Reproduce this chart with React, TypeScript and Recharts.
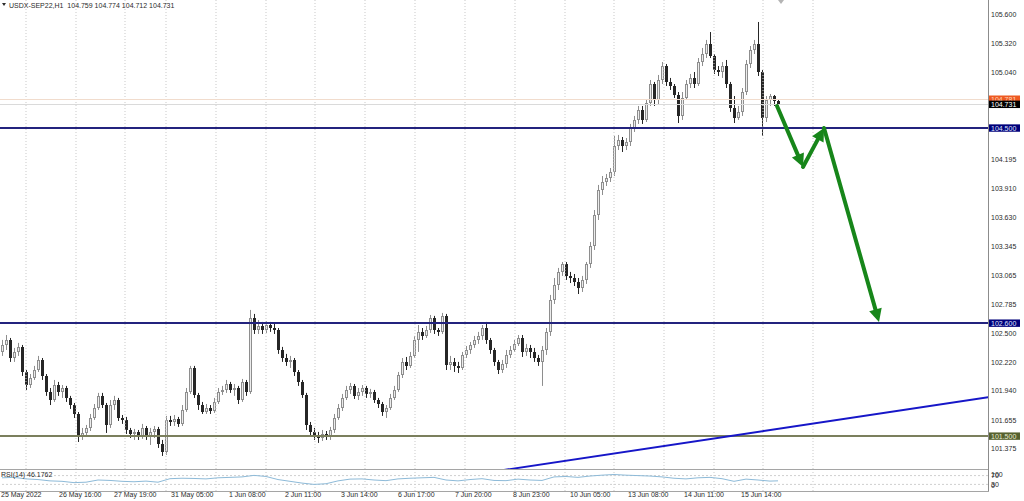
import React from 'react';
import { Bar, ComposedChart, Line, LineChart, ReferenceLine, XAxis, YAxis } from 'recharts';

// USDX-SEP22, H1 candles (oldest first)
const symbol = 'USDX-SEP22,H1';

const opens = [
  102.319, 102.387, 102.436, 102.26, 102.319, 102.368, 102.124, 101.997, 102.065, 102.143,
  102.241, 102.085, 101.93, 101.851, 101.997, 101.93, 101.968, 101.871, 101.802, 101.715,
  101.501, 101.53, 101.579, 101.676, 101.773, 101.891, 101.802, 101.608, 101.802, 101.851,
  101.676, 101.657, 101.559, 101.52, 101.54, 101.501, 101.579, 101.491, 101.54, 101.569,
  101.423, 101.345, 101.657, 101.638, 101.666, 101.618, 101.754, 101.93, 102.163, 101.9,
  101.802, 101.735, 101.773, 101.744, 101.832, 101.93, 101.949, 102.007, 101.949, 101.968,
  101.851, 102.027, 101.93, 102.65, 102.533, 102.572, 102.533, 102.581, 102.552, 102.533,
  102.338, 102.26, 102.222, 102.241, 102.124, 102.027, 101.9, 101.608, 101.54, 101.501,
  101.481, 101.52, 101.501, 101.559, 101.676, 101.773, 101.871, 101.949, 101.988, 101.891,
  101.93, 101.968, 101.91, 101.93, 101.851, 101.812, 101.735, 101.773, 101.871, 101.949,
  102.095, 102.222, 102.183, 102.28, 102.436, 102.514, 102.475, 102.533, 102.65, 102.533,
  102.514, 102.67, 102.192, 102.222, 102.183, 102.163, 102.29, 102.338, 102.387, 102.436,
  102.475, 102.552, 102.436, 102.338, 102.222, 102.143, 102.202, 102.29, 102.338, 102.397,
  102.455, 102.319, 102.358, 102.319, 102.26, 102.222, 102.338, 102.514, 102.825, 102.971,
  103.098, 103.175, 103.059, 103.039, 103.0, 102.942, 103.02, 103.175, 103.351, 103.653,
  103.896, 103.974, 104.013, 104.071, 104.324, 104.383, 104.324, 104.363, 104.5, 104.578,
  104.675, 104.578, 104.743, 104.928, 104.772, 104.967, 105.103, 104.948, 104.909, 104.821,
  104.617, 104.792, 104.928, 104.987, 104.928, 105.142, 105.22, 105.318, 105.201, 105.064,
  105.045, 105.103, 104.928, 104.694, 104.597, 104.656, 104.85, 105.123, 105.259, 105.318,
  105.045, 104.597, 104.772, 104.811, 104.759,
];

const highs = [
  102.436, 102.484, 102.455, 102.358, 102.407, 102.387, 102.143, 102.104, 102.183, 102.28,
  102.26, 102.104, 101.968, 102.046, 102.027, 101.997, 101.988, 101.891, 101.822, 101.734,
  101.579, 101.608, 101.715, 101.812, 101.92, 101.92, 101.822, 101.851, 101.891, 101.871,
  101.705, 101.686, 101.579, 101.569, 101.559, 101.618, 101.598, 101.579, 101.598, 101.589,
  101.462, 101.696, 101.696, 101.705, 101.686, 101.802, 101.968, 102.183, 102.183, 101.92,
  101.832, 101.812, 101.802, 101.871, 101.968, 101.988, 102.046, 102.027, 102.007, 101.988,
  102.056, 102.046, 102.728, 102.689, 102.63, 102.611, 102.62, 102.611, 102.592, 102.552,
  102.368, 102.3, 102.28, 102.26, 102.143, 102.046, 101.92, 101.637, 101.579, 101.54,
  101.559, 101.549, 101.589, 101.715, 101.812, 101.91, 101.988, 102.017, 102.007, 101.968,
  101.997, 101.988, 101.959, 101.949, 101.871, 101.832, 101.802, 101.91, 101.988, 102.124,
  102.26, 102.27, 102.319, 102.475, 102.581, 102.552, 102.572, 102.679, 102.67, 102.552,
  102.699, 102.689, 102.28, 102.26, 102.222, 102.319, 102.377, 102.416, 102.475, 102.514,
  102.581, 102.611, 102.455, 102.358, 102.241, 102.241, 102.338, 102.377, 102.436, 102.484,
  102.484, 102.397, 102.387, 102.358, 102.29, 102.377, 102.552, 102.874, 103.039, 103.137,
  103.195, 103.195, 103.098, 103.078, 103.039, 103.059, 103.195, 103.39, 103.701, 103.945,
  104.032, 104.052, 104.11, 104.422, 104.432, 104.412, 104.402, 104.539, 104.617, 104.714,
  104.714, 104.772, 104.967, 104.948, 105.016, 105.142, 105.123, 104.987, 104.928, 104.85,
  104.85, 104.967, 105.026, 105.045, 105.181, 105.279, 105.357, 105.434, 105.22, 105.103,
  105.142, 105.162, 104.948, 104.811, 104.714, 104.889, 105.162, 105.298, 105.357, 105.532,
  105.064, 104.811, 104.831, 104.821, 104.774,
];

const lows = [
  102.28, 102.338, 102.222, 102.222, 102.28, 102.085, 101.949, 101.968, 102.046, 102.124,
  102.046, 101.891, 101.802, 101.832, 101.891, 101.871, 101.832, 101.764, 101.676, 101.442,
  101.462, 101.501, 101.549, 101.657, 101.754, 101.773, 101.53, 101.579, 101.754, 101.647,
  101.618, 101.52, 101.481, 101.462, 101.462, 101.472, 101.462, 101.413, 101.481, 101.384,
  101.306, 101.316, 101.598, 101.598, 101.589, 101.598, 101.735, 101.91, 101.871, 101.754,
  101.715, 101.715, 101.715, 101.725, 101.812, 101.9, 101.92, 101.92, 101.891, 101.812,
  101.832, 101.891, 101.91, 102.494, 102.494, 102.494, 102.504, 102.514, 102.494, 102.3,
  102.222, 102.183, 102.163, 102.085, 101.988, 101.871, 101.559, 101.491, 101.462, 101.433,
  101.452, 101.462, 101.462, 101.53, 101.657, 101.744, 101.851, 101.91, 101.861, 101.851,
  101.891, 101.871, 101.871, 101.822, 101.773, 101.696, 101.676, 101.754, 101.851, 101.93,
  102.065, 102.143, 102.163, 102.26, 102.319, 102.436, 102.455, 102.504, 102.494, 102.475,
  102.494, 102.143, 102.143, 102.124, 102.114, 102.143, 102.26, 102.3, 102.358, 102.397,
  102.436, 102.397, 102.3, 102.183, 102.104, 102.114, 102.163, 102.26, 102.319, 102.377,
  102.27, 102.28, 102.26, 102.222, 102.183, 101.988, 102.29, 102.475, 102.786, 102.922,
  103.059, 103.02, 102.99, 102.961, 102.883, 102.903, 102.981, 103.137, 103.312, 103.604,
  103.847, 103.935, 103.974, 104.032, 104.285, 104.266, 104.285, 104.324, 104.461, 104.539,
  104.539, 104.558, 104.714, 104.714, 104.733, 104.928, 104.909, 104.87, 104.792, 104.548,
  104.578, 104.772, 104.889, 104.889, 104.909, 105.103, 105.181, 105.181, 105.026, 105.006,
  104.987, 104.889, 104.656, 104.548, 104.578, 104.617, 104.821, 105.084, 105.22, 105.006,
  104.422, 104.558, 104.714, 104.714, 104.712,
];

const closes = [
  102.387, 102.436, 102.26, 102.319, 102.368, 102.124, 101.997, 102.065, 102.143, 102.241,
  102.085, 101.93, 101.851, 101.997, 101.93, 101.968, 101.871, 101.802, 101.715, 101.501,
  101.53, 101.579, 101.676, 101.773, 101.891, 101.802, 101.608, 101.802, 101.851, 101.676,
  101.657, 101.559, 101.52, 101.54, 101.501, 101.579, 101.491, 101.54, 101.569, 101.423,
  101.345, 101.657, 101.638, 101.666, 101.618, 101.754, 101.93, 102.163, 101.9, 101.802,
  101.735, 101.773, 101.744, 101.832, 101.93, 101.949, 102.007, 101.949, 101.968, 101.851,
  102.027, 101.93, 102.65, 102.533, 102.572, 102.533, 102.581, 102.552, 102.533, 102.338,
  102.26, 102.222, 102.241, 102.124, 102.027, 101.9, 101.608, 101.54, 101.501, 101.481,
  101.52, 101.501, 101.559, 101.676, 101.773, 101.871, 101.949, 101.988, 101.891, 101.93,
  101.968, 101.91, 101.93, 101.851, 101.812, 101.735, 101.773, 101.871, 101.949, 102.095,
  102.222, 102.183, 102.28, 102.436, 102.514, 102.475, 102.533, 102.65, 102.533, 102.514,
  102.67, 102.192, 102.222, 102.183, 102.163, 102.29, 102.338, 102.387, 102.436, 102.475,
  102.552, 102.436, 102.338, 102.222, 102.143, 102.202, 102.29, 102.338, 102.397, 102.455,
  102.319, 102.358, 102.319, 102.26, 102.222, 102.338, 102.514, 102.825, 102.971, 103.098,
  103.175, 103.059, 103.039, 103.0, 102.942, 103.02, 103.175, 103.351, 103.653, 103.896,
  103.974, 104.013, 104.071, 104.324, 104.383, 104.324, 104.363, 104.5, 104.578, 104.675,
  104.578, 104.743, 104.928, 104.772, 104.967, 105.103, 104.948, 104.909, 104.821, 104.617,
  104.792, 104.928, 104.987, 104.928, 105.142, 105.22, 105.318, 105.201, 105.064, 105.045,
  105.103, 104.928, 104.694, 104.597, 104.656, 104.85, 105.123, 105.259, 105.318, 105.045,
  104.597, 104.772, 104.811, 104.759, 104.731,
];

const askPrice = 104.781;
const levelPrices = [104.5, 102.6, 101.5];
const priceTicks = [
  105.6, 105.32, 105.04, 104.195, 103.91, 103.63, 103.345, 103.065, 102.785, 102.5, 102.22,
  101.94, 101.655, 101.375,
];

// RSI(14), one reading every third bar, last one on the final bar
const rsiValues = [
  60, 62, 55, 52, 46, 44, 38, 40, 50, 48, 44, 42, 45, 40, 56, 58, 57, 55, 60, 62, 64, 71, 66, 52,
  44, 36, 30, 33, 46, 54, 55, 50, 47, 55, 58, 60, 62, 50, 46, 52, 56, 48, 47, 54, 50, 48, 64, 66,
  62, 68, 72, 75, 72, 70, 68, 64, 58, 55, 60, 62, 56, 44, 54, 50, 45, 46.1762,
];
const rsiStep = 3;
const rsiTicks = [100, 70, 30, 0];
const rsiLevels = [70, 30];

// bar positions of the time labels and of the dotted separators
const timeTicks = [-0.5, 14, 27.75, 42, 56.5, 70.5, 84.5, 98.75, 113, 127.5, 141.75, 156.25, 170.25, 184.5];
const timeLabels = [
  '25 May 2022', '26 May 16:00', '27 May 19:00', '31 May 05:00', '1 Jun 08:00', '2 Jun 11:00',
  '3 Jun 14:00', '6 Jun 17:00', '7 Jun 20:00', '8 Jun 23:00', '10 Jun 05:00', '13 Jun 08:00',
  '14 Jun 11:00', '15 Jun 14:00',
];
const gridBars = [6, 18.5, 30.75, 41, 53.5, 66, 78.25, 90.75, 103.25, 115.75, 128.25, 140.75, 153, 165.5, 178, 190.25, 202.75];

// drawn objects: support trend line and the forecast arrows (bar index, price)
const trendLine = [{ i: 100, p: 101.02 }, { i: 260, p: 101.957 }];
const forecast = [
  { i: 193.75, p: 104.714 },
  { i: 200.25, p: 104.12 },
  { i: 205.5, p: 104.5 },
  { i: 219.25, p: 102.611 },
];

const W = 1024;
const PLOT_W = 988;
const MAIN_H = 469;
const BAR_DOMAIN: [number, number] = [-0.5, 246.5];
const PRICE_DOMAIN: [number, number] = [101.179, 105.746];
const FONT = '"Liberation Sans", Arial, sans-serif';
const TEXT = '#2b2b2b';
const GREEN = '#17861a';
const GRID = '#c9c9c9';

const candles = closes.map((c, i) => ({
  i,
  open: opens[i],
  high: highs[i],
  low: lows[i],
  close: c,
  range: [lows[i], highs[i]],
}));

const rsiRows = rsiValues.map((v, k) => ({ i: Math.min(k * rsiStep, closes.length - 1), v }));

const last = candles.length - 1;
const header = `${symbol}  ${opens[last].toFixed(3)} ${highs[last].toFixed(3)} ${lows[last].toFixed(3)} ${closes[last].toFixed(3)}`;

function Candle(props: any) {
  const { x, y, width, height, payload } = props;
  if (x == null || !payload) return null;
  const top = Math.min(y, y + height);
  const h = Math.abs(height);
  const span = payload.high - payload.low || 1e-9;
  const yOf = (v: number) => top + ((payload.high - v) / span) * h;
  const cx = Math.round(x + width / 2);
  const up = payload.close >= payload.open;
  const bodyTop = Math.round(yOf(Math.max(payload.open, payload.close)));
  const bodyBot = Math.max(bodyTop + 1, Math.round(yOf(Math.min(payload.open, payload.close))));
  const stroke = up ? '#8e8e8e' : '#262626';
  return (
    <g>
      <line x1={cx + 0.5} x2={cx + 0.5} y1={top} y2={top + h} stroke={stroke} strokeWidth={1} />
      <rect
        x={cx - 0.5}
        y={bodyTop + 0.5}
        width={2}
        height={Math.max(bodyBot - bodyTop - 1, 0)}
        fill={up ? '#ececec' : '#262626'}
        stroke={stroke}
        strokeWidth={1}
      />
    </g>
  );
}

function levelShape(color: string, width: number, tagBg: string, tagFg: string, label: string) {
  return (p: any) => {
    const yy = Math.round(p.y1) + (width % 2 ? 0.5 : 0);
    return (
      <g>
        <line x1={p.x1} x2={p.x2} y1={yy} y2={yy} stroke={color} strokeWidth={width} />
        <rect x={PLOT_W + 1} y={p.y1 - 3.6} width={31} height={7.4} fill={tagBg} />
        <text
          x={PLOT_W + 3}
          y={p.y1 + 0.2}
          fill={tagFg}
          fontSize={7}
          fontFamily={FONT}
          dominantBaseline="central"
        >
          {label}
        </text>
      </g>
    );
  };
}

function Arrow(p: any) {
  const { x1, y1, x2, y2 } = p;
  const dx = x2 - x1;
  const dy = y2 - y1;
  const len = Math.hypot(dx, dy) || 1;
  const ux = dx / len;
  const uy = dy / len;
  const head = 13;
  const half = 6.5;
  const bx = x2 - ux * head;
  const by = y2 - uy * head;
  return (
    <g>
      <line x1={x1} y1={y1} x2={bx + ux * 2} y2={by + uy * 2} stroke={GREEN} strokeWidth={4} strokeLinecap="round" />
      <polygon
        points={`${x2},${y2} ${bx - uy * half},${by + ux * half} ${bx + uy * half},${by - ux * half}`}
        fill={GREEN}
      />
    </g>
  );
}

const PriceTick = (p: any) => (
  <text x={991} y={p.y} fill={TEXT} fontSize={7} fontFamily={FONT} dominantBaseline="central">
    {Number(p.payload.value).toFixed(3)}
  </text>
);

// MetaTrader squeezes the 100/0 labels inside the small pane, over 70/30
const RsiTick = (p: any) => (
  <text
    x={991}
    y={Math.min(Math.max(p.y, 5.8), 16)}
    fill={TEXT}
    fontSize={7}
    fontFamily={FONT}
    dominantBaseline="central"
  >
    {p.payload.value}
  </text>
);

const TimeTick = (p: any) => {
  const k = timeTicks.indexOf(p.payload.value);
  return (
    <text x={p.x + 1} y={25.6} fill={TEXT} fontSize={7} fontFamily={FONT} dominantBaseline="central">
      {k >= 0 ? timeLabels[k] : ''}
    </text>
  );
};

export default function App() {
  const bid = closes[last];
  return (
    <div
      style={{
        position: 'absolute',
        left: 0,
        top: 0,
        width: W,
        height: 501,
        background: '#fff',
        overflow: 'hidden',
      }}
    >
      <div style={{ position: 'absolute', left: 0, top: 0 }}>
        <ComposedChart width={W} height={MAIN_H} data={candles} margin={{ top: 0, right: 0, bottom: 0, left: 0 }}>
          <XAxis type="number" dataKey="i" domain={BAR_DOMAIN} allowDataOverflow hide />
          <YAxis
            type="number"
            orientation="right"
            width={W - PLOT_W}
            domain={PRICE_DOMAIN}
            allowDataOverflow
            ticks={priceTicks}
            interval={0}
            axisLine={false}
            tickLine={false}
            tick={PriceTick}
          />
          {gridBars.map((g) => (
            <ReferenceLine key={`g${g}`} x={g} stroke={GRID} strokeDasharray="1 2" />
          ))}
          <Bar dataKey="range" barSize={3} shape={Candle} isAnimationActive={false} />
          <ReferenceLine y={askPrice} shape={levelShape('#f1dccd', 1, '#ee5a22', '#ffd3b8', askPrice.toFixed(3))} />
          <ReferenceLine y={bid} shape={levelShape('#dadada', 1, '#000000', '#ffffff', bid.toFixed(3))} />
          <ReferenceLine
            y={levelPrices[0]}
            shape={levelShape('#23237e', 2, '#00007a', '#dfe4ff', levelPrices[0].toFixed(3))}
          />
          <ReferenceLine
            y={levelPrices[1]}
            shape={levelShape('#23237e', 2, '#00007a', '#dfe4ff', levelPrices[1].toFixed(3))}
          />
          <ReferenceLine
            y={levelPrices[2]}
            shape={levelShape('#7b7f5d', 2, '#56612f', '#e6ecd0', levelPrices[2].toFixed(3))}
          />
          <ReferenceLine
            segment={[
              { x: trendLine[0].i, y: trendLine[0].p },
              { x: trendLine[1].i, y: trendLine[1].p },
            ]}
            stroke="#1616c8"
            strokeWidth={2}
            ifOverflow="hidden"
          />
          {forecast.slice(1).map((b, k) => (
            <ReferenceLine
              key={`a${k}`}
              segment={[
                { x: forecast[k].i, y: forecast[k].p },
                { x: b.i, y: b.p },
              ]}
              shape={Arrow}
              ifOverflow="visible"
            />
          ))}
        </ComposedChart>
      </div>

      <div style={{ position: 'absolute', left: 0, top: MAIN_H }}>
        <LineChart width={W} height={32} data={rsiRows} margin={{ top: 0, right: 0, bottom: 0, left: 0 }}>
          <XAxis
            type="number"
            dataKey="i"
            domain={BAR_DOMAIN}
            allowDataOverflow
            ticks={timeTicks}
            interval={0}
            height={10}
            axisLine={false}
            tickLine={false}
            tick={TimeTick}
          />
          <YAxis
            type="number"
            orientation="right"
            width={W - PLOT_W}
            domain={[0, 100]}
            ticks={rsiTicks}
            interval={0}
            axisLine={false}
            tickLine={false}
            tick={RsiTick}
          />
          {gridBars.map((g) => (
            <ReferenceLine key={`rg${g}`} x={g} stroke={GRID} strokeDasharray="1 2" />
          ))}
          {rsiLevels.map((lv) => (
            <ReferenceLine key={`lv${lv}`} y={lv} stroke="#cfcfcf" strokeDasharray="2 2" />
          ))}
          <Line dataKey="v" stroke="#8dbad8" strokeWidth={1} dot={false} isAnimationActive={false} />
        </LineChart>
      </div>

      <svg
        width={W}
        height={501}
        style={{ position: 'absolute', left: 0, top: 0, pointerEvents: 'none' }}
      >
        <line x1={PLOT_W + 0.5} x2={PLOT_W + 0.5} y1={0} y2={492} stroke="#8c8c8c" />
        <line x1={0} x2={PLOT_W} y1={MAIN_H + 0.5} y2={MAIN_H + 0.5} stroke="#a5a5a5" />
        <line x1={0} x2={PLOT_W + 1} y1={491.5} y2={491.5} stroke="#a5a5a5" />
        <polygon points="778,0 784,0 781,4" fill="#b4b4b4" />
        <polygon points="2,3 6,3 4,6" fill={TEXT} />
        <text x={9} y={5} fill={TEXT} fontSize={7} fontFamily={FONT} dominantBaseline="central" xmlSpace="preserve">
          {header}
        </text>
        <text x={1} y={474.5} fill={TEXT} fontSize={7} fontFamily={FONT} dominantBaseline="central">
          {`RSI(14) ${rsiValues[rsiValues.length - 1].toFixed(4)}`}
        </text>
      </svg>
    </div>
  );
}
